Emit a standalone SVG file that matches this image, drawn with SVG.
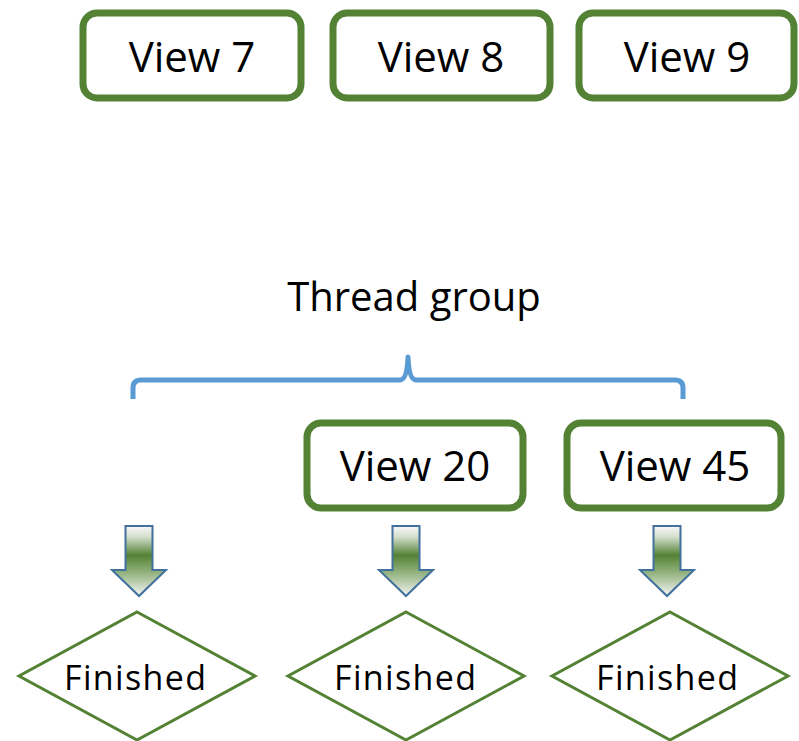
<svg xmlns="http://www.w3.org/2000/svg" width="799" height="741" viewBox="0 0 799 741">
<style>
.box{fill:#fff;stroke:#548235;stroke-width:7}
.dia{fill:#fff;stroke:#548235;stroke-width:3}
.t{font-family:"Open Sans","Noto Sans",sans-serif;fill:#000;text-anchor:middle}
.v{font-size:42px}
.f{font-size:34px}
.arr{fill:url(#g);stroke:#41719C;stroke-width:2}
.brace{fill:none;stroke:#5B9BD5;stroke-width:5;stroke-linejoin:round}
</style>
<defs>
<linearGradient id="g" x1="0" y1="0" x2="0" y2="1">
<stop offset="0" stop-color="#f7f7f7"/>
<stop offset="0.15" stop-color="#d5e0cf"/>
<stop offset="0.42" stop-color="#548235"/>
<stop offset="0.7" stop-color="#9cb98a"/>
<stop offset="1" stop-color="#f5f5f5"/>
</linearGradient>
</defs>
<g id="view7"><rect class="box" x="83" y="13" width="218" height="85" rx="14"/><text class="t v" x="192" y="72">View 7</text></g>
<g id="view8"><rect class="box" x="333" y="13" width="217" height="85" rx="14"/><text class="t v" x="441" y="72">View 8</text></g>
<g id="view9"><rect class="box" x="579" y="13" width="215" height="85" rx="14"/><text class="t v" x="687" y="72">View 9</text></g>
<g id="thread-group"><text class="t" style="font-size:40px" x="414" y="311">Thread group</text>
<path class="brace" d="M133,399 V388 Q133,380 141,380 H400 Q407,380 408,357 Q409,380 416,380 H675 Q683,380 683,388 V399"/></g>
<g id="view20"><rect class="box" x="307" y="423" width="216" height="85" rx="14"/><text class="t v" x="415" y="481">View 20</text></g>
<g id="view45"><rect class="box" x="567" y="423" width="214" height="85" rx="14"/><text class="t v" x="675" y="481">View 45</text></g>
<g id="connectors">
<path class="arr" d="M125.5,526 H152.5 V570 H166 L139,596 L112,570 H125.5 Z"/>
<path class="arr" d="M392.5,526 H419.5 V570 H433 L406,596 L379,570 H392.5 Z"/>
<path class="arr" d="M653.5,526 H680.5 V570 H694 L667,596 L640,570 H653.5 Z"/>
</g>
<g id="finished1"><polygon class="dia" points="137,612 255,676 137,740 19,676"/><text class="t f" x="135" y="690" textLength="142" lengthAdjust="spacing">Finished</text></g>
<g id="finished2"><polygon class="dia" points="406,612 524,676 406,740 288,676"/><text class="t f" x="405" y="690" textLength="142" lengthAdjust="spacing">Finished</text></g>
<g id="finished3"><polygon class="dia" points="670,612 788,676 670,740 552,676"/><text class="t f" x="667" y="690" textLength="142" lengthAdjust="spacing">Finished</text></g>
</svg>
